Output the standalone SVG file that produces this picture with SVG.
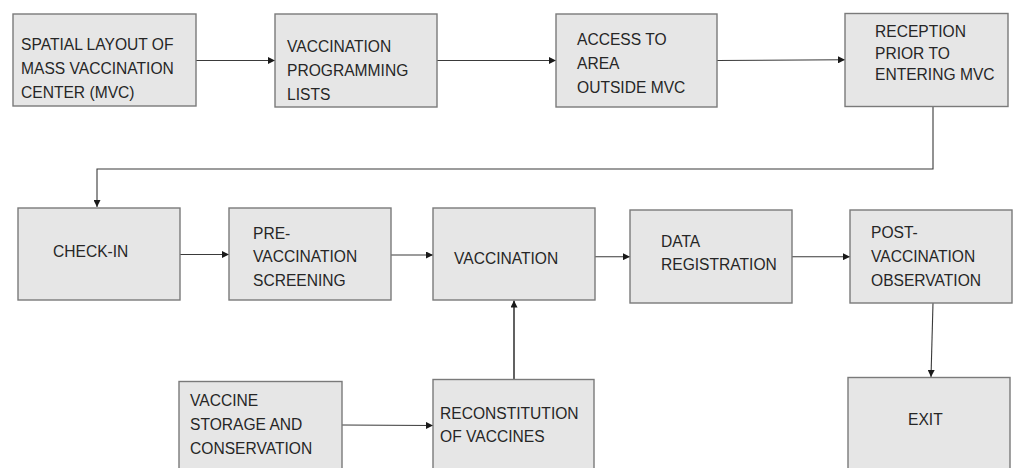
<svg xmlns="http://www.w3.org/2000/svg" width="1013" height="468" viewBox="0 0 1013 468">
<style>
.box{fill:#e6e6e6;stroke:#7a7a7a;stroke-width:1.4}
.t{font-family:"Liberation Sans",Arial,sans-serif;font-size:15.6px;fill:#262626}
.c{fill:none;stroke:#3a3a3a;stroke-width:1.1}
</style>
<defs>
<marker id="ah" viewBox="0 0 10 10" refX="10" refY="5" markerWidth="7" markerHeight="7" markerUnits="userSpaceOnUse" orient="auto">
<path d="M0,0 L10,5 L0,10 z" fill="#1a1a1a"/>
</marker>
</defs>
<rect width="1013" height="468" fill="#ffffff"/>
<g id="connectors">
<path class="c" d="M196,60.5 L275,60.5" marker-end="url(#ah)"/>
<path class="c" d="M437,60.5 L556,60.5" marker-end="url(#ah)"/>
<path class="c" d="M717,60.5 L845,59.8" marker-end="url(#ah)"/>
<path class="c" d="M933,107 L933,169 L97,169 L97,207" stroke="#666" marker-end="url(#ah)"/>
<path class="c" d="M180,254.5 L229,254.5" marker-end="url(#ah)"/>
<path class="c" d="M391,255 L433,255" marker-end="url(#ah)"/>
<path class="c" d="M590,256.7 L630,256.7" marker-end="url(#ah)"/>
<path class="c" d="M792,256.7 L850,256.7" marker-end="url(#ah)"/>
<path class="c" d="M933,303 L931,377" marker-end="url(#ah)"/>
<path class="c" d="M342,425 L433,425.5" marker-end="url(#ah)"/>
<path class="c" style="stroke-width:1.6" d="M514,380 L514,300.5" marker-end="url(#ah)"/>
</g>
<g id="n1"><rect class="box" x="13" y="14" width="183" height="92"/>
<text class="t" x="21" y="50">SPATIAL LAYOUT OF</text><text class="t" x="21" y="74">MASS VACCINATION</text><text class="t" x="21" y="98">CENTER (MVC)</text></g>
<g id="n2"><rect class="box" x="275" y="14" width="162" height="93"/>
<text class="t" x="287" y="52">VACCINATION</text><text class="t" x="287" y="76">PROGRAMMING</text><text class="t" x="287" y="100">LISTS</text></g>
<g id="n3"><rect class="box" x="556" y="14" width="161" height="93"/>
<text class="t" x="577" y="45">ACCESS TO</text><text class="t" x="577" y="69">AREA</text><text class="t" x="577" y="93">OUTSIDE MVC</text></g>
<g id="n4"><rect class="box" x="845" y="13.5" width="163" height="93"/>
<text class="t" x="875" y="37">RECEPTION</text><text class="t" x="875" y="58.5">PRIOR TO</text><text class="t" x="875" y="80">ENTERING MVC</text></g>
<g id="n5"><rect class="box" x="18" y="208" width="162" height="92"/>
<text class="t" x="53" y="257">CHECK-IN</text></g>
<g id="n6"><rect class="box" x="229" y="208" width="162" height="92"/>
<text class="t" x="253" y="239">PRE-</text><text class="t" x="253" y="262">VACCINATION</text><text class="t" x="253" y="286">SCREENING</text></g>
<g id="n7"><rect class="box" x="433" y="208" width="162" height="92"/>
<text class="t" x="454" y="264">VACCINATION</text></g>
<g id="n8"><rect class="box" x="630" y="210" width="162" height="93"/>
<text class="t" x="661" y="247">DATA</text><text class="t" x="661" y="270">REGISTRATION</text></g>
<g id="n9"><rect class="box" x="850" y="210" width="162" height="93"/>
<text class="t" x="871" y="238">POST-</text><text class="t" x="871" y="262">VACCINATION</text><text class="t" x="871" y="286">OBSERVATION</text></g>
<g id="n10"><rect class="box" x="179" y="381.5" width="163" height="92"/>
<text class="t" x="190" y="406">VACCINE</text><text class="t" x="190" y="430">STORAGE AND</text><text class="t" x="190" y="454">CONSERVATION</text></g>
<g id="n11"><rect class="box" x="433" y="379.5" width="161" height="95"/>
<text class="t" x="440" y="419">RECONSTITUTION</text><text class="t" x="440" y="442">OF VACCINES</text></g>
<g id="n12"><rect class="box" x="848" y="377.5" width="162" height="97"/>
<text class="t" x="908" y="425">EXIT</text></g>
</svg>
